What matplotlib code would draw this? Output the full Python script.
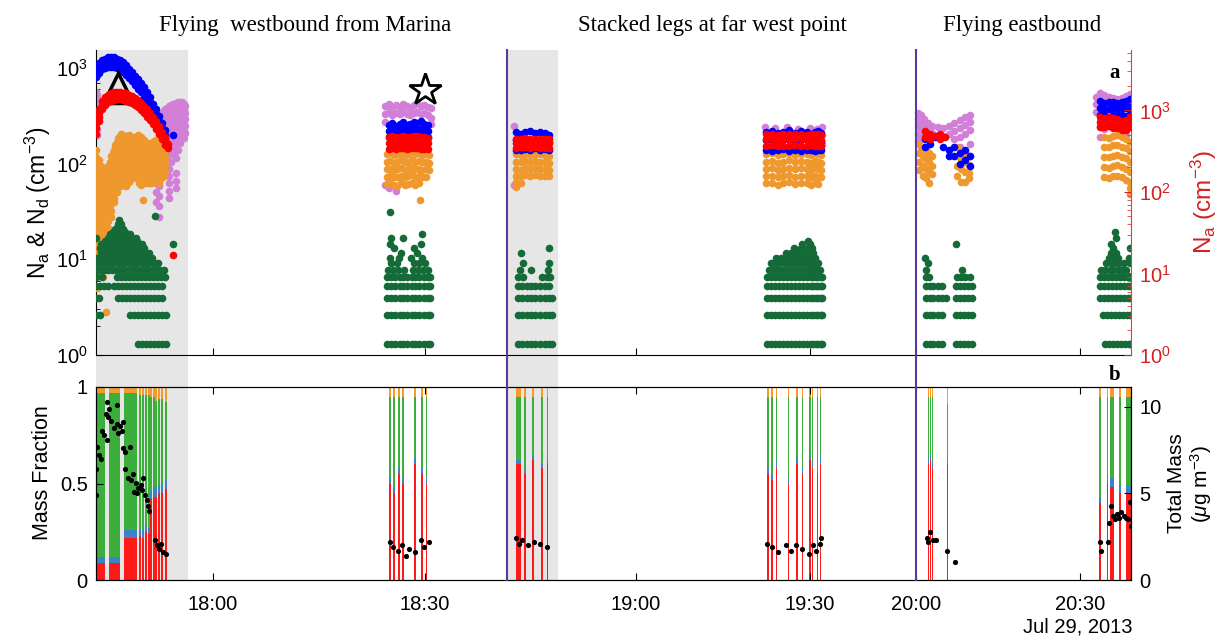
import numpy as np
import matplotlib
matplotlib.use('Agg')
import matplotlib.pyplot as plt
from matplotlib.patches import Rectangle
from matplotlib.lines import Line2D
from matplotlib.transforms import blended_transform_factory
from matplotlib.ticker import LogLocator, NullFormatter

plt.rcParams['font.family'] = 'Liberation Sans'
plt.rcParams['font.size'] = 14.5
plt.rcParams['mathtext.fontset'] = 'custom'
plt.rcParams['mathtext.rm'] = 'Liberation Sans'
plt.rcParams['mathtext.it'] = 'Liberation Sans:italic'

# time in minutes after 17:00, Jul 29 2013
tick_t = [60, 90, 120, 150, 180, 210]
tick_lab = ['18:00', '18:30', '19:00', '19:30', '20:00', '20:30']
xlim_t = (43.45, 219.3)
# axis is not uniform in time: clock time at tick marks -> relative position
axis_t = [43.45, 60, 90, 120, 150, 180, 210, 219.3]
axis_pos = [96, 213, 425, 636, 810, 916, 1080, 1131]

shade_t = [(43.45, 56.5), (101.65, 108.9)]
leg_lines_t = [101.65, 180.0]
titles = ['Flying  westbound from Marina', 'Stacked legs at far west point', 'Flying eastbound']

# ---- panel a: number concentrations (columns: time, values) ----
blue_cols = [
    (43.45, [1010, 900, 805]), (43.9, [1120, 1000, 895]), (44.3, [1210, 1080, 965]),
    (44.7, [1255, 1120, 1000]), (45.15, [1290, 1150, 1030]), (45.6, [1300, 1160, 1035]),
    (46.0, [1290, 1150, 1030]), (46.4, [1255, 1120, 1000]), (46.8, [1210, 1080, 965]),
    (47.3, [1140, 1020, 910]), (47.7, [1065, 950, 850]), (48.1, [985, 880, 785]),
    (48.5, [910, 810, 725]), (49.0, [830, 740, 660]), (49.4, [760, 680, 605]),
    (49.8, [695, 620, 555]), (50.2, [630, 560, 500]), (50.7, [560, 500, 445]),
    (51.1, [495, 440, 395]), (51.5, [425, 380, 340]), (51.9, [370, 330, 295]),
    (52.4, [315, 280, 250]), (52.8, [265, 235, 210]), (53.2, [225, 200, 180]), (54.3, [200]),
    (84.9, [255, 220, 190]), (85.4, [265, 225, 195]), (85.9, [250, 215, 188]),
    (86.4, [260, 222, 192]), (86.9, [270, 228, 195]), (87.4, [255, 218, 190]),
    (87.9, [262, 224, 193]), (88.4, [275, 230, 196]), (88.9, [268, 226, 194]),
    (89.4, [280, 232, 197]), (89.9, [262, 224, 192]), (90.4, [255, 218, 188]),
    (103.0, [215, 175, 140]), (103.6, [205, 170, 138]), (104.2, [212, 174, 142]),
    (104.9, [220, 178, 140]), (105.6, [208, 172, 145]), (106.3, [215, 176, 140]),
    (107.0, [210, 174, 142]), (107.6, [200, 168, 140]),
    (142.4, [215, 175, 140]), (143.4, [220, 178, 136]), (144.4, [210, 172, 138]),
    (145.4, [215, 176, 142]), (146.4, [225, 180, 136]), (147.4, [210, 174, 140]),
    (148.4, [220, 178, 134]), (149.4, [215, 175, 138]), (150.4, [205, 170, 140]),
    (151.4, [212, 174, 136]), (152.4, [218, 176, 138]), (153.2, [210, 172, 140]),
    (181.6, [180, 150]), (182.6, [200, 160]), (183.5, [190]), (185.0, [150]),
    (186.0, [140, 120]), (187.0, [150, 120]), (188.0, [130, 100]), (189.0, [140, 110]),
    (189.8, [120, 95]),
    (213.6, [450, 380, 320]), (214.4, [430, 370, 330]), (215.2, [440, 375, 310]),
    (216.0, [445, 380, 325]), (216.8, [430, 372, 330]), (217.6, [440, 378, 320]),
    (218.4, [455, 385, 315]), (219.1, [470, 390, 330]),
]

red_cols = [  # right axis
    (43.45, [900, 800, 700, 600, 520]), (43.9, [1050, 940, 840, 740]),
    (44.3, [1290, 1160, 1050]), (44.7, [1440, 1300, 1170]), (45.15, [1550, 1400, 1260]),
    (45.6, [1620, 1460, 1320]), (46.0, [1665, 1500, 1350]), (46.4, [1680, 1510, 1360]),
    (46.8, [1680, 1510, 1360]), (47.3, [1655, 1490, 1340]), (47.7, [1620, 1460, 1315]),
    (48.1, [1565, 1410, 1270]), (48.5, [1510, 1360, 1225]), (49.0, [1430, 1290, 1160]),
    (49.4, [1345, 1210, 1090]), (49.8, [1245, 1120, 1010]), (50.2, [1145, 1030, 930]),
    (50.7, [1030, 930, 840]), (51.1, [930, 840, 755]), (51.5, [830, 750, 675]),
    (51.9, [735, 660, 595]), (52.4, [640, 575, 520]), (52.8, [550, 495, 445]),
    (53.2, [465, 420, 380]), (53.6, [390, 350]), (54.3, [16.7]),
    (84.9, [470, 400, 340]), (85.4, [480, 405, 345]), (85.9, [465, 398, 338]),
    (86.4, [475, 402, 342]), (86.9, [485, 408, 345]), (87.4, [470, 400, 340]),
    (87.9, [478, 404, 344]), (88.4, [490, 410, 346]), (88.9, [480, 406, 342]),
    (89.4, [472, 400, 338]), (89.9, [468, 398, 340]), (90.4, [460, 395, 335]),
    (103.0, [450, 400, 350]), (103.6, [445, 398, 352]), (104.2, [455, 402, 355]),
    (104.9, [450, 400, 350]), (105.6, [445, 398, 352]), (106.3, [450, 400, 350]),
    (107.0, [442, 396, 348]), (107.6, [446, 398, 350]),
    (142.4, [510, 440, 370]), (143.4, [515, 442, 372]), (144.4, [505, 436, 368]),
    (145.4, [512, 440, 370]), (146.4, [508, 438, 366]), (147.4, [515, 444, 372]),
    (148.4, [510, 440, 370]), (149.4, [505, 436, 368]), (150.4, [512, 440, 372]),
    (151.4, [508, 438, 366]), (152.4, [510, 440, 370]), (153.2, [505, 436, 368]),
    (181.6, [560, 470]), (182.6, [520, 450]), (183.5, [480]), (184.4, [520, 450]),
    (185.3, [470]),
    (213.6, [820, 720, 630]), (214.4, [800, 700, 620]), (215.2, [830, 730, 640]),
    (216.0, [800, 700, 615]), (216.8, [780, 680, 600]), (217.6, [740, 650, 570]),
    (218.4, [760, 660, 580]), (219.1, [820, 720, 630]),
]

violet_cols = [
    (43.45, [560, 480, 410, 350, 300, 260, 220]), (43.6, [520, 440, 380, 320, 270, 230, 200]),
    (52.0, [140, 115, 95, 78, 62, 50, 40]),
    (52.3, [300, 250, 200, 165, 135, 110, 90, 72, 58, 46, 36, 28]),
    (52.6, [330, 280, 235, 195, 160, 130]), (52.9, [350, 295, 250, 210, 175, 145, 120, 100]),
    (53.2, [370, 310, 260, 220, 185, 155]), (53.5, [380, 320, 270, 230, 195, 165, 140, 118, 98]),
    (53.8, [400, 340, 290, 245, 205, 175, 150, 125, 105, 88, 74, 62, 52, 44]),
    (54.1, [410, 350, 300, 255, 215, 180, 150, 125, 105]),
    (54.4, [420, 360, 305, 260, 220, 185, 155, 130]),
    (54.7, [430, 370, 315, 265, 225, 190, 160, 135, 115, 80, 66, 55]),
    (55.0, [440, 375, 320, 270, 230, 195, 165, 140]), (55.3, [440, 375, 320, 270, 230, 195, 165]),
    (55.6, [440, 375, 320, 270, 230, 195]), (55.9, [420, 360, 305, 260, 220, 185]),
    (56.1, [400, 340, 290, 250, 210]),
    (84.4, [400, 330, 270, 60]), (84.9, [420, 350, 55]), (85.4, [380, 320]),
    (85.9, [410, 340, 52]), (86.4, [390, 330]), (86.9, [420, 350]), (87.4, [400, 330]),
    (87.9, [380, 320]), (88.4, [410, 340]), (88.9, [430, 350]), (89.4, [400, 330]),
    (89.9, [410, 340]), (90.4, [390, 320]), (90.8, [380, 300, 260]),
    (102.6, [250, 60]), (103.0, [58]),
    (142.2, [240]), (144.0, [235]), (146.0, [240]), (148.0, [230]), (150.0, [238]),
    (152.0, [232]), (153.4, [240, 200, 160]),
    (180.3, [340, 290, 245, 205, 170]), (180.9, [320, 270, 225, 185, 150]),
    (181.5, [290, 245, 205]), (182.2, [265, 225]), (183.0, [250, 210]), (184.0, [240, 200]),
    (185.0, [235, 195]), (186.0, [245, 205]), (187.0, [265, 220, 180]),
    (188.0, [285, 235, 190, 150]), (189.0, [305, 255, 205, 130]), (189.8, [325, 275, 225, 160]),
    (212.9, [500, 420, 350]), (213.6, [550, 470, 250, 190]), (214.4, [520, 440, 230]),
    (215.2, [500, 420]), (216.0, [480, 400]), (216.8, [470, 390]), (217.6, [490, 410, 250]),
    (218.4, [510, 430, 260, 200]), (219.1, [540, 460, 240]),
]

orange_cols = [
    (43.45, [140, 118, 100, 85, 72, 61, 52, 44, 37, 31, 26, 22, 19, 16, 13.5, 11.5, 10]),
    (43.6, [100, 85, 72, 61, 52, 44, 37, 31, 26, 22, 19, 16, 13.5, 11.5, 10, 8.3, 6.5, 5]),
    (43.9, [110, 93, 79, 67, 57, 48, 41, 35, 29, 25, 21, 18, 15, 13]),
    (44.1, [95, 80, 68, 58, 49, 42, 36, 30, 26, 22, 18, 15.5, 13]),
    (44.3, [90, 76, 65, 55, 47, 40, 34, 29, 24, 20, 17, 14.5, 12, 10, 9]),
    (44.45, [6.5]), (44.5, [80, 68, 58, 49, 42, 35, 30, 25, 21, 18, 15, 13, 11]),
    (44.7, [85, 72, 61, 52, 44, 37, 31, 27, 22, 19, 16, 13.5, 11.5, 10]),
    (44.9, [75, 64, 54, 46, 39, 33, 28, 24, 20, 2.8]),
    (45.15, [95, 80, 68, 58, 49, 42, 35, 30, 25, 21]), (45.4, [105, 89, 76, 64, 55, 46, 39, 33, 28]),
    (45.6, [120, 102, 87, 74, 63, 53, 45, 38, 32, 28]), (45.8, [130, 110, 94, 80, 68, 58, 49, 42]),
    (46.0, [140, 119, 101, 86, 73, 62, 52, 44, 40]), (46.2, [155, 132, 112, 95, 81, 69, 58, 50]),
    (46.4, [170, 145, 123, 105, 89, 76, 64, 55, 50]), (46.6, [185, 157, 134, 114, 97, 82, 70, 60]),
    (46.8, [195, 166, 141, 120, 102, 87, 74, 63, 58]), (47.0, [205, 174, 148, 126, 107, 91, 77, 65]),
    (47.3, [200, 170, 145, 123, 105, 89, 76, 65, 60]), (47.5, [190, 162, 137, 117, 99, 84, 72, 62]),
    (47.7, [185, 157, 134, 114, 97, 82, 70, 58]), (47.9, [195, 166, 141, 120, 102, 87, 74, 63]),
    (48.1, [200, 170, 145, 123, 105, 89, 76, 65]), (48.3, [195, 166, 141, 120, 102, 87, 74]),
    (48.5, [190, 162, 137, 117, 99, 84, 72]), (48.75, [185, 157, 134, 114, 97, 82, 70]),
    (49.0, [185, 157, 134, 114, 97, 82, 72]), (49.2, [195, 166, 141, 120, 102, 87, 74]),
    (49.4, [200, 170, 145, 123, 105, 89, 76]), (49.6, [195, 166, 141, 120, 102, 87, 74, 63]),
    (49.8, [190, 162, 137, 117, 99, 84, 72, 60]), (50.0, [180, 153, 130, 110, 94, 80, 68]),
    (50.1, [42]), (50.2, [175, 149, 126, 107, 91, 78, 66]), (50.45, [170, 145, 123, 105, 89, 76, 64]),
    (50.7, [165, 140, 119, 101, 86, 73, 62]), (50.9, [160, 136, 116, 98, 84, 71, 62]),
    (51.1, [160, 136, 116, 98, 84, 71, 62]), (51.3, [165, 140, 119, 101, 86, 73, 62]),
    (51.5, [170, 145, 123, 105, 89, 76, 65]), (51.7, [172, 146, 124, 106, 90, 77, 66]),
    (51.9, [175, 149, 126, 107, 91, 78, 66]), (52.15, [170, 145, 123, 105, 89, 76, 65]),
    (52.4, [165, 140, 119, 101, 86, 73, 62]), (52.6, [158, 134, 114, 97, 82, 70]),
    (52.8, [150, 128, 108, 92, 78]), (53.0, [142, 121, 103, 87, 74]), (53.2, [135, 115, 98, 83]),
    (84.6, [125, 104, 87, 73, 61]), (85.1, [128, 106, 88, 74, 62]), (85.6, [122, 102, 86, 72, 60]),
    (86.1, [126, 105, 87, 73, 58]), (86.6, [130, 108, 90, 75, 62]), (87.1, [124, 103, 86, 72, 60]),
    (87.6, [127, 105, 88, 74, 61]), (88.1, [132, 110, 91, 76, 63]), (88.6, [125, 104, 87, 73, 60]),
    (89.1, [128, 106, 88, 74, 62]), (89.3, [42]), (89.6, [124, 103, 86, 72]),
    (90.1, [126, 105, 87, 73]), (90.6, [122, 102, 85]),
    (103.0, [125, 105, 88, 75, 64, 57]), (103.6, [122, 103, 86, 74, 62]),
    (104.2, [126, 106, 89, 76]), (104.9, [124, 104, 88, 75]), (105.6, [127, 106, 89, 76]),
    (106.3, [125, 105, 88, 75]), (107.0, [122, 103, 87, 74]), (107.6, [120, 102, 86, 74]),
    (142.4, [125, 105, 88, 74, 62]), (143.4, [128, 107, 90, 75, 63]), (144.4, [122, 102, 86, 72, 60]),
    (145.4, [126, 105, 88, 74, 62]), (146.4, [130, 108, 90, 76, 64]), (147.4, [124, 104, 87, 73, 61]),
    (148.4, [127, 106, 89, 75, 63]), (149.4, [125, 105, 88, 74, 62]), (150.4, [122, 102, 86, 72, 60]),
    (151.4, [128, 107, 90, 75, 63]), (152.4, [125, 104, 87, 73, 61]), (153.2, [122, 102, 85, 72]),
    (180.6, [160, 130, 105, 85]), (181.2, [150, 120, 95, 75]), (181.8, [140, 112, 88, 70]),
    (182.4, [130, 104, 82, 62]), (183.0, [120, 95, 78]), (187.5, [150, 120, 95, 75]),
    (188.3, [140, 112, 88, 65]), (189.0, [130, 104, 82, 65]), (189.7, [120, 96, 80, 70]),
    (214.4, [190, 150, 118, 92, 72]), (215.2, [185, 148, 116, 90, 70]),
    (216.0, [195, 155, 120, 94, 74]), (216.8, [200, 158, 124, 96, 75]),
    (217.6, [190, 150, 118, 92, 72]), (218.4, [180, 145, 114, 88, 68]),
    (219.1, [170, 135, 105, 82, 64, 55, 48]),
]

# N_d counts sit on discrete levels
green_levels = [1.3, 2.6, 3.9, 5.2, 6.5, 7.8, 9.1, 10.4, 11.7, 13.0, 14.3, 15.6, 16.9, 18.2,
                19.5, 20.8, 23.4, 26.0, 28.6, 31.2]
green_times = [
    # 1.3
    [49.4, 50.0, 50.5, 51.1, 51.65, 52.2, 52.8, 53.35,
     84.6, 85.2, 85.8, 86.4, 86.9, 87.5, 88.1, 88.6, 89.2, 89.8, 90.4, 90.7,
     103.2, 103.8, 104.5, 105.1, 105.7, 106.3, 107.0, 107.6, 108.0,
     142.6, 143.3, 144.0, 144.6, 145.3, 146.0, 146.7, 147.4, 148.1, 148.8, 149.5, 150.2, 150.9,
     151.6, 152.3, 153.0, 153.3,
     181.8, 182.5, 183.2, 184.0, 184.7, 187.3, 188.0, 188.8, 189.5, 190.2,
     214.6, 215.3, 216.0, 216.8, 217.5, 218.2, 218.9, 219.2],
    # 2.6
    [43.45, 44.0, 48.25, 48.8, 49.4, 50.0, 50.5, 51.1, 51.65, 52.2, 52.8, 53.35,
     84.6, 85.2, 85.8, 86.4, 86.9, 87.5, 88.1, 88.6, 89.2, 89.8, 90.4, 90.7,
     103.2, 103.8, 104.5, 105.1, 105.7, 106.3, 107.0, 107.6, 108.0,
     142.6, 143.3, 144.0, 144.6, 145.3, 146.0, 146.7, 147.4, 148.1, 148.8, 149.5, 150.2, 150.9,
     151.6, 152.3, 153.0, 153.3,
     181.8, 182.5, 183.2, 184.0, 184.7, 187.3, 188.0, 188.8, 189.5, 190.2,
     214.2, 214.9, 215.6, 216.4, 217.1, 217.8, 218.5, 219.2],
    # 3.9
    [43.45, 43.9, 46.55, 47.1, 47.7, 48.25, 48.8, 49.4, 50.0, 50.5, 51.1, 51.65, 52.2, 52.8,
     84.6, 85.2, 85.8, 86.4, 86.9, 87.5, 88.1, 88.6, 89.2, 89.8, 90.4, 90.7,
     103.2, 103.8, 104.5, 105.1, 105.7, 106.3, 107.0, 107.6, 108.0,
     142.6, 143.3, 144.0, 144.6, 145.3, 146.0, 146.7, 147.4, 148.1, 148.8, 149.5, 150.2, 150.9,
     151.6, 152.3, 153.0, 153.3,
     181.8, 182.5, 183.2, 184.0, 184.7, 185.4, 187.3, 188.0, 188.8, 189.5, 190.2,
     213.7, 214.4, 215.1, 215.8, 216.5, 217.3, 218.0, 218.7, 219.2],
    # 5.2
    [43.45, 44.0, 44.6, 45.15, 46.0, 46.55, 47.1, 47.7, 48.25, 48.8, 49.4, 50.0, 50.5, 51.1,
     51.65, 52.2, 52.8,
     84.6, 85.2, 85.8, 86.4, 86.9, 87.5, 88.1, 88.6, 89.2, 89.8, 90.4, 90.7,
     103.2, 103.8, 104.5, 105.1, 105.7, 106.3, 107.0, 107.6,
     142.6, 143.3, 144.0, 144.6, 145.3, 146.0, 146.7, 147.4, 148.1, 148.8, 149.5, 150.2, 150.9,
     151.6, 152.3, 153.0, 153.3,
     181.8, 182.5, 183.2, 184.0, 184.7, 187.3, 188.0, 188.8, 189.5, 190.2,
     213.7, 214.4, 215.1, 215.8, 216.5, 217.3, 218.0, 218.7, 219.2],
    # 6.5
    [43.45, 44.3, 46.4, 47.0, 47.55, 48.1, 48.7, 49.25, 49.8, 50.4, 51.0, 51.5, 52.1, 52.65, 53.2,
     84.6, 85.2, 85.8, 86.4, 86.9, 87.5, 88.1, 88.6, 89.2, 89.8, 90.4, 90.7,
     103.2, 103.9, 106.6, 107.3, 107.8,
     142.6, 143.3, 144.0, 144.6, 145.3, 146.0, 146.7, 147.4, 148.1, 148.8, 149.5, 150.2, 150.9,
     151.6, 152.3, 153.0, 153.3,
     181.8, 182.3, 187.5, 188.3, 189.0, 189.8,
     213.7, 214.4, 215.1, 215.8, 216.5, 217.3, 218.0, 218.7, 219.2],
    # 7.8
    [43.45, 44.0, 44.6, 45.15, 45.7, 46.3, 46.8, 47.4, 47.95, 48.5, 49.1, 49.7, 50.2, 50.8,
     51.35, 51.9, 52.5, 53.05,
     84.8, 85.5, 86.2, 87.0, 88.3, 89.0, 89.7, 90.4,
     103.5, 105.0, 107.5,
     142.9, 143.6, 144.3, 145.0, 145.7, 146.4, 147.1, 147.8, 148.5, 149.2, 149.9, 150.6, 151.3,
     152.0, 152.7,
     181.9, 188.5,
     213.9, 214.6, 215.4, 216.1, 216.9, 217.6, 218.4],
    # 9.1
    [43.6, 44.2, 44.8, 45.4, 45.9, 46.5, 47.1, 47.6, 48.2, 48.8, 49.3, 49.9, 50.5, 51.0, 51.6, 52.2,
     85.2, 86.0, 88.5, 89.2, 90.0,
     103.9, 107.6,
     143.3, 144.0, 144.7, 145.5, 146.2, 146.9, 147.6, 148.3, 149.0, 149.7, 150.4, 151.1, 151.8, 152.4,
     182.2,
     214.8, 215.6, 216.4, 217.2, 218.0, 219.1],
    # 10.4
    [43.45, 44.0, 44.6, 45.15, 45.7, 46.3, 46.8, 47.4, 47.95, 48.5, 49.1, 49.7, 50.2, 50.8, 51.35,
     85.0, 86.3, 88.0, 89.6,
     144.2, 145.0, 145.8, 146.6, 147.4, 148.2, 149.0, 149.8, 150.6, 151.4,
     181.7,
     215.3, 216.1, 216.9, 219.0],
    # 11.7
    [44.1, 44.7, 45.3, 45.85, 46.4, 47.0, 47.55, 48.1, 48.7, 49.25, 49.8, 50.4, 51.0,
     86.6, 88.8, 103.6,
     145.8, 146.8, 147.8, 148.8, 149.8, 150.8,
     215.6, 216.6],
    # 13
    [44.0, 44.6, 45.15, 45.7, 46.3, 46.8, 47.4, 47.95, 48.5, 49.1, 49.7, 50.2,
     85.6, 88.4, 107.7,
     147.2, 148.4, 149.6, 150.6,
     216.0, 219.2],
    # 14.3
    [44.2, 44.8, 45.4, 45.9, 46.5, 47.1, 47.6, 48.2, 48.8, 49.3, 49.9, 54.3,
     85.1, 89.5, 148.6, 150.0, 187.3, 215.6],
    # 15.6
    [44.7, 45.3, 45.85, 46.4, 47.0, 47.55, 48.1, 48.7, 49.25, 149.6],
    # 16.9
    [43.45, 45.15, 45.7, 46.3, 46.8, 47.4, 47.95, 48.5, 49.1, 85.2, 86.9, 216.6],
    # 18.2
    [45.4, 46.0, 46.5, 47.1, 47.7, 48.2, 89.6],
    # 19.5
    [45.9, 46.5, 47.0, 47.6, 216.3],
    # 20.8
    [46.2, 46.8, 47.3],
    # 23.4
    [46.5, 47.0],
    # 26
    [46.7],
    # 28.6
    [51.8],
    # 31.2
    [85.0],
]

triangle_t, triangle_v = [46.55], [620]
star_t, star_v = [90.0], [590]

# ---- panel b: mass fraction bars (start, end, red, blue, orange; green is the rest) ----
mf_t0 = [43.45, 45.3, 47.4, 49.6, 50.0, 50.45, 50.8, 51.1, 51.5, 51.85, 52.25, 52.7, 53.25,
         84.9, 85.5, 86.2, 86.8, 88.5, 89.4, 90.1,
         102.9, 104.1, 105.2, 106.5, 107.3,
         142.6, 143.3, 144.1, 146.2, 147.6, 148.6, 149.9, 150.6, 151.9, 152.9,
         182.2, 182.6, 182.95, 185.6,
         213.55, 214.95, 215.5, 217.2, 218.3]
mf_t1 = [44.75, 46.8, 49.25, 49.85, 50.25, 50.7, 51.05, 51.35, 51.75, 52.1, 52.5, 52.95, 53.5,
         85.15, 85.75, 86.45, 87.05, 88.75, 89.65, 90.35,
         103.7, 104.35, 105.45, 106.75, 107.55,
         142.85, 143.55, 144.35, 146.45, 147.85, 148.85, 150.15, 150.85, 152.15, 153.15,
         182.4, 182.8, 183.15, 185.8,
         213.75, 215.15, 216.2, 217.4, 219.3]
mf_red = [.09, .09, .22, .23, .22, .25, .24, .42, .43, .43, .45, .45, .47,
          .50, .45, .55, .50, .60, .55, .50,
          .60, .55, .62, .58, .60,
          .55, .52, .58, .50, .60, .55, .62, .58, .55, .60,
          .60, .62, .58, .60,
          .40, .50, .48, .45, .45]
mf_blue = [.03, .03, .04, .03, .04, .03, .03, .04, .05, .05, .04, .05, .05,
           .03, .03, .03, .03, .03, .03, .03,
           .02, .02, .02, .02, .02,
           .03, .03, .03, .03, .03, .03, .03, .03, .03, .03,
           .03, .03, .03, .01,
           .03, .05, .05, .04, .04]
mf_orange = [.03, .03, .03, .04, .04, .04, .04, .05, .05, .07, .06, .06, .08,
             .05, .05, .05, .05, .05, .05, .05,
             .05, .05, .05, .05, .05,
             .05, .05, .05, .05, .05, .05, .05, .05, .05, .05,
             .05, .05, .05, .09,
             .05, .05, .05, .05, .05]

mass_t = [43.45, 43.5, 43.6, 43.9, 44.2, 44.3, 44.6, 44.8, 45.0, 45.0, 45.2, 45.3, 45.6, 46.0,
          46.4, 46.4, 46.6, 46.9, 47.1, 47.3, 47.3, 47.6, 48.2, 47.6, 48.0, 48.4, 48.7, 48.8,
          49.1, 49.2, 49.4, 49.8, 50.0, 50.1, 50.4, 50.6, 50.8, 51.0, 51.8, 52.1, 52.4, 52.6,
          52.9, 53.3,
          85.0, 85.5, 86.2, 86.8, 87.3, 87.8, 88.6, 89.4, 89.8, 90.5,
          103.0, 103.4, 103.8, 104.6, 105.5, 106.4, 107.3,
          142.6, 143.4, 144.5, 145.8, 146.8, 147.6, 148.6, 149.8, 150.8, 151.8, 152.8, 153.2,
          182.0, 182.2, 182.6, 183.2, 183.6, 185.7, 187.1,
          213.65, 213.8, 215.1, 215.3, 215.7, 216.1, 216.4, 216.8, 217.2, 217.5, 218.0, 218.4,
          218.8, 219.1, 219.3]
mass_v = [6.4, 4.9, 7.7, 7.2, 7.0, 8.6, 8.4, 9.6, 8.1, 10.3, 9.4, 9.9, 9.2, 8.8,
          9.0, 10.1, 8.5, 8.9, 8.6, 9.1, 7.6, 7.4, 7.7, 6.4, 5.9, 5.8, 6.1, 5.1,
          5.6, 5.0, 5.3, 5.5, 5.2, 5.9, 4.9, 4.6, 4.3, 4.0, 2.3, 2.0, 1.8, 2.1,
          1.6, 1.5,
          2.2, 1.9, 1.7, 2.0, 1.4, 1.8, 1.6, 2.3, 1.9, 2.2,
          2.4, 2.1, 2.3, 2.0, 2.2, 2.1, 1.9,
          2.1, 1.9, 1.6, 2.0, 1.7, 2.0, 1.8, 1.5, 2.0, 1.7, 2.1, 2.4,
          2.4, 2.2, 2.8, 2.3, 2.3, 1.7, 1.05,
          2.2, 1.7, 2.2, 3.3, 4.3, 3.7, 3.5, 3.8, 3.6, 3.9, 3.7, 3.6,
          3.5, 4.5, 3.1]


def flat(cols):
    t = [c[0] for c in cols for _ in c[1]]
    v = [x for c in cols for x in c[1]]
    return t, v


# piecewise time axis built on the library's function scale
kt = np.array(axis_t, float)
kp = np.array(axis_pos, float)
kt_full = np.r_[kt[0] - 1e4, kt, kt[-1] + 1e4]
kp_full = np.r_[kp[0] - 1e4 * (kp[1] - kp[0]) / (kt[1] - kt[0]), kp,
                kp[-1] + 1e4 * (kp[-1] - kp[-2]) / (kt[-1] - kt[-2])]


def fwd(t):
    return np.interp(t, kt_full, kp_full)


def inv(p):
    return np.interp(p, kp_full, kt_full)


W, H = 1221, 637
fig = plt.figure(figsize=(W / 100, H / 100), dpi=100)
ax1 = fig.add_axes([96 / W, 1 - 355 / H, 1035 / W, 305 / H])
ax3 = fig.add_axes([96 / W, 1 - 580 / H, 1035 / W, 193 / H], sharex=ax1)
ax1.set_xscale('function', functions=(fwd, inv))
ax1.set_xlim(*xlim_t)
ax1.patch.set_visible(False)
ax3.patch.set_visible(False)

# grey shading and purple lines run through both panels
tr = blended_transform_factory(ax1.transData, fig.transFigure)
for t0, t1 in shade_t:
    fig.add_artist(Rectangle((t0, 1 - 580 / H), t1 - t0, (580 - 50) / H, transform=tr,
                             facecolor='#e6e6e6', edgecolor='none', zorder=-1))
for t in leg_lines_t:
    fig.add_artist(Line2D([t, t], [1 - 580 / H, 1 - 50 / H], transform=tr,
                          color='#5b3a9e', lw=1.5, zorder=5))

ms = 30
t, v = flat(violet_cols)
ax1.scatter(t, v, s=ms, color='#d27fd8', lw=0, zorder=2)
t, v = flat(orange_cols)
ax1.scatter(t, v, s=ms, color='#ee982e', lw=0, zorder=3)
t, v = flat(blue_cols)
ax1.scatter(t, v, s=ms, color='#0000ff', lw=0, zorder=4)
gt = [x for lev, ts in zip(green_levels, green_times) for x in ts]
gv = [lev for lev, ts in zip(green_levels, green_times) for _ in ts]
ax1.scatter(gt, gv, s=ms, color='#146b38', lw=0, zorder=5)
ax1.plot(triangle_t, triangle_v, marker='^', ms=22, mfc='none', mec='black', mew=2.5, ls='none',
         zorder=6)
ax1.plot(star_t, star_v, marker='*', ms=24, mfc='white', mec='black', mew=2, ls='none', zorder=6)

ax1.set_yscale('log')
ax1.set_ylim(1, 1540)
ax1.spines['top'].set_visible(False)
ax1.spines['right'].set_visible(False)
ax1.tick_params(axis='both', which='both', direction='in')
ax1.tick_params(axis='x', length=5, labelbottom=False)
ax1.tick_params(axis='y', which='major', length=5, pad=6)
ax1.tick_params(axis='y', which='minor', length=3)
ax1.yaxis.set_major_locator(LogLocator(base=10, numticks=10))
ax1.yaxis.set_minor_locator(LogLocator(base=10, subs=np.arange(2, 10), numticks=20))
ax1.yaxis.set_minor_formatter(NullFormatter())
ax1.set_ylabel(r'N$_\mathregular{a}$ & N$_\mathregular{d}$ (cm$^\mathregular{-3}$)', fontsize=16.5)
ax1.yaxis.set_label_coords(-0.042, 0.5)

ax2 = ax1.twinx()
t, v = flat(red_cols)
ax2.scatter(t, v, s=ms, color='#ff0000', lw=0, zorder=4)
ax2.set_yscale('log')
ax2.set_ylim(1, 5500)
for s in ['top', 'left', 'bottom']:
    ax2.spines[s].set_visible(False)
ax2.spines['right'].set_color('#e0403a')
ax2.tick_params(axis='y', which='both', direction='in', colors='#d42020')
ax2.tick_params(axis='y', which='major', length=5, pad=6)
ax2.tick_params(axis='y', which='minor', length=3, color='#e0403a')
ax2.yaxis.set_major_locator(LogLocator(base=10, numticks=10))
ax2.yaxis.set_minor_locator(LogLocator(base=10, subs=np.arange(2, 10), numticks=20))
ax2.yaxis.set_minor_formatter(NullFormatter())
ax2.set_ylabel(r'N$_\mathregular{a}$ (cm$^\mathregular{-3}$)', color='#d42020', fontsize=17.5)
ax2.yaxis.set_label_coords(1.056, 0.5)

# panel b
mf_t0 = np.array(mf_t0)
mf_w = np.array(mf_t1) - mf_t0
red = np.array(mf_red)
blue = np.array(mf_blue)
orange = np.array(mf_orange)
green = 1 - red - blue - orange
ax3.bar(mf_t0, red, width=mf_w, align='edge', color='#ff1a1a', lw=0)
ax3.bar(mf_t0, blue, width=mf_w, bottom=red, align='edge', color='#3b82c8', lw=0)
ax3.bar(mf_t0, green, width=mf_w, bottom=red + blue, align='edge', color='#3cae3c', lw=0)
ax3.bar(mf_t0, orange, width=mf_w, bottom=red + blue + green, align='edge', color='#f39c2e', lw=0)
ax3.set_ylim(0, 1)
ax3.set_yticks([0, 0.5, 1])
ax3.set_yticklabels(['0', '0.5', '1'])
ax3.set_xticks(tick_t)
ax3.set_xticklabels(tick_lab)
ax3.tick_params(axis='both', direction='in', length=5, top=True)
ax3.tick_params(axis='x', pad=11)
ax3.tick_params(axis='y', pad=6)
ax3.set_ylabel('Mass Fraction', fontsize=15.5)
ax3.yaxis.set_label_coords(-0.042, 0.555)

ax4 = ax3.twinx()
ax4.scatter(mass_t, mass_v, s=14, color='black', lw=0, zorder=5)
ax4.set_ylim(0, 11.15)
ax4.set_yticks([0, 5, 10])
ax4.tick_params(axis='y', direction='in', length=5, pad=6)
ax4.set_ylabel('Total Mass\n($\\mu$g m$^\\mathregular{-3}$)', fontsize=15, linespacing=1.1)
ax4.yaxis.set_label_coords(1.035, 0.5)

for a in (ax1, ax3, ax4):
    for s in a.spines.values():
        s.set_linewidth(0.8)

title_x = [305, 712, 1022]
for x, txt in zip(title_x, titles):
    fig.text(x / W, 1 - 26 / H, txt, ha='center', va='center', family='Liberation Serif',
             fontsize=16.5)
fig.text(1115 / W, 1 - 73 / H, 'a', ha='center', va='center', family='Liberation Serif',
         fontweight='bold', fontsize=15)
fig.text(1115 / W, 1 - 375 / H, 'b', ha='center', va='center', family='Liberation Serif',
         fontweight='bold', fontsize=15)
fig.text(1078 / W, 1 - 627 / H, 'Jul 29, 2013', ha='center', va='center', fontsize=14.5)

fig.savefig('out.png', dpi=100)
